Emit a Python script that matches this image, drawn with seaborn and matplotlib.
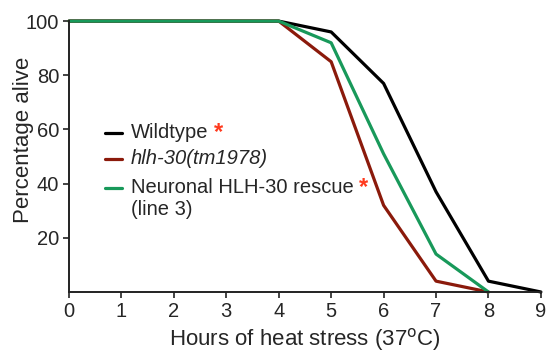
import matplotlib
matplotlib.use("Agg")
import matplotlib.pyplot as plt
import seaborn as sns
import pandas as pd

hours_wt = [0, 1, 2, 3, 4, 5, 6, 7, 8, 9]
wildtype = [100, 100, 100, 100, 100, 96, 77, 37, 4, 0]
hours_mut = [0, 1, 2, 3, 4, 5, 6, 7, 8]
hlh30 = [100, 100, 100, 100, 100, 85, 32, 4, 0]
rescue = [100, 100, 100, 100, 100, 92, 51, 14, 0]

series_names = ["Wildtype", "hlh-30(tm1978)", "Neuronal HLH-30 rescue"]
colors = ["#000000", "#8B1A0B", "#18995A"]
star_color = "#FF3A1E"
x_ticks = list(range(10))
y_ticks = [20, 40, 60, 80, 100]

df = pd.concat([
    pd.DataFrame({"hours": hours_wt, "alive": wildtype, "strain": series_names[0]}),
    pd.DataFrame({"hours": hours_mut, "alive": hlh30, "strain": series_names[1]}),
    pd.DataFrame({"hours": hours_mut, "alive": rescue, "strain": series_names[2]}),
])

sns.set_style("ticks")
plt.rcParams["font.family"] = ["Liberation Sans", "DejaVu Sans"]

fs = 14.5
fs_lab = 16
fig = plt.figure(figsize=(5.48, 3.52), dpi=100)
ax = fig.add_axes([0.126, 0.1705, 0.861, 0.7695])

sns.lineplot(data=df, x="hours", y="alive", hue="strain", hue_order=series_names,
             palette=colors, linewidth=2.3, legend=False, ax=ax, clip_on=False)

ax.set_xlim(0, 9)
ax.set_ylim(0, 100)
ax.set_xticks(x_ticks)
ax.set_yticks(y_ticks)
ax.tick_params(axis="both", labelsize=fs, length=4, width=1.2, direction="out", pad=3, color="#222222")
for s in ["top", "right"]:
    ax.spines[s].set_visible(False)
for s in ["left", "bottom"]:
    ax.spines[s].set_linewidth(1.4)
    ax.spines[s].set_color("#222222")
ax.set_xlabel("Hours of heat stress (37$^{\\mathrm{o}}$C)", fontsize=fs_lab, labelpad=4)
ax.set_ylabel("Percentage alive", fontsize=fs_lab)
ax.yaxis.set_label_coords(-0.074, 0.561)

# legend (manual)
rows = [
    (0.587, series_names[0], "normal", True, colors[0]),
    (0.491, series_names[1], "italic", False, colors[1]),
    (0.384, series_names[2], "normal", True, colors[2]),
]
for y, label, style, star, c in rows:
    ax.plot([0.076, 0.113], [y, y], transform=ax.transAxes, color=c, lw=2.3, clip_on=False)
    t = ax.text(0.131, y, label, transform=ax.transAxes, fontsize=fs, style=style,
                va="center", ha="left")
    if star:
        ax.annotate("*", xy=(1, 0.5), xycoords=t, xytext=(4, 0), textcoords="offset points",
                    fontsize=17, fontweight="bold", color=star_color, va="center", ha="left")
ax.text(0.131, 0.303, "(line 3)", transform=ax.transAxes, fontsize=fs, va="center", ha="left")

fig.savefig("out.png", dpi=100)
